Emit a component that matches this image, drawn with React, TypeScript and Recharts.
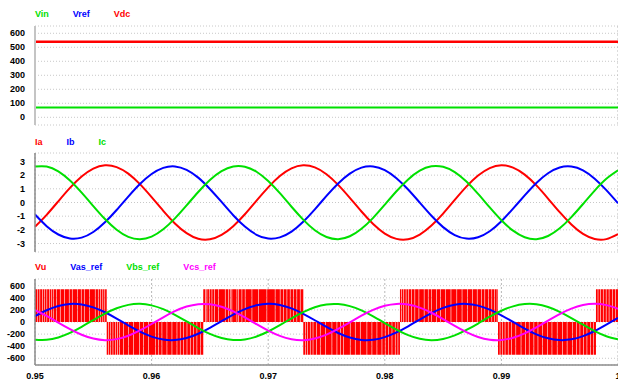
import { Area, CartesianGrid, ComposedChart, Line, XAxis, YAxis } from "recharts";

const FONT = "'Liberation Sans', Arial, sans-serif";
const WIDTH = 618;

// time axis (s)
const timeTicks = [0.95, 0.96, 0.97, 0.98, 0.99, 1];
const sampleTimes = [
  0.95, 0.951, 0.952, 0.953, 0.954, 0.955, 0.956, 0.957, 0.958, 0.959,
  0.96, 0.961, 0.962, 0.963, 0.964, 0.965, 0.966, 0.967, 0.968, 0.969,
  0.97, 0.971, 0.972, 0.973, 0.974, 0.975, 0.976, 0.977, 0.978, 0.979,
  0.98, 0.981, 0.982, 0.983, 0.984, 0.985, 0.986, 0.987, 0.988, 0.989,
  0.99, 0.991, 0.992, 0.993, 0.994, 0.995, 0.996, 0.997, 0.998, 0.999, 1
];

// panel 1: dc quantities
const dcTimes = [0.95, 1];
const vinValues = [70, 70];
const vrefValues = [540, 540];
const vdcValues = [540, 540];

// panel 2: phase currents
const iaValues = [
  -1.77, -0.9, 0.09, 1.07, 1.9, 2.48, 2.72, 2.59, 2.11, 1.34,
  0.39, -0.61, -1.53, -2.24, -2.65, -2.69, -2.37, -1.73, -0.86, 0.14,
  1.11, 1.94, 2.5, 2.72, 2.57, 2.07, 1.29, 0.34, -0.66, -1.57,
  -2.27, -2.66, -2.69, -2.35, -1.69, -0.81, 0.19, 1.16, 1.97, 2.52,
  2.72, 2.55, 2.04, 1.25, 0.29, -0.71, -1.61, -2.3, -2.67, -2.68, -2.32
];
const ibValues = [
  -0.88, -1.73, -2.34, -2.63, -2.57, -2.16, -1.45, -0.55, 0.43, 1.35,
  2.08, 2.53, 2.64, 2.39, 1.82, 0.99, 0.04, -0.93, -1.76, -2.36,
  -2.64, -2.55, -2.13, -1.41, -0.5, 0.48, 1.39, 2.11, 2.55, 2.64,
  2.37, 1.78, 0.95, -0.01, -0.97, -1.8, -2.38, -2.64, -2.54, -2.1,
  -1.37, -0.45, 0.52, 1.43, 2.14, 2.56, 2.63, 2.35, 1.74, 0.9, -0.06
];
const icValues = [
  2.63, 2.63, 2.28, 1.61, 0.72, -0.26, -1.21, -1.99, -2.51, -2.68,
  -2.49, -1.96, -1.16, -0.21, 0.77, 1.65, 2.3, 2.64, 2.62, 2.25,
  1.57, 0.68, -0.31, -1.25, -2.03, -2.52, -2.68, -2.47, -1.92, -1.12,
  -0.16, 0.82, 1.69, 2.33, 2.65, 2.61, 2.22, 1.53, 0.63, -0.36,
  -1.3, -2.06, -2.54, -2.68, -2.45, -1.89, -1.07, -0.11, 0.87, 1.73, 2.35
];

// panel 3: references
const vasValues = [
  96, 194, 264, 298, 290, 242, 161, 57, -55, -160,
  -241, -290, -298, -265, -194, -97, 13, 122, 214, 276,
  300, 282, 225, 136, 29, -82, -182, -257, -296, -294,
  -250, -173, -71, 41, 147, 233, 286, 299, 271, 205,
  111, 1, -109, -204, -270, -299, -287, -234, -149, -43, 68
];
const vbsValues = [
  -294, -295, -255, -180, -79, 32, 139, 227, 283, 300,
  275, 212, 119, 10, -100, -197, -266, -298, -289, -240,
  -157, -52, 60, 163, 244, 291, 297, 263, 191, 93,
  -18, -126, -217, -278, -300, -280, -222, -132, -25, 87,
  186, 259, 296, 293, 248, 169, 66, -45, -151, -235, -287
];
const vcsValues = [
  198, 102, -9, -118, -211, -274, -300, -283, -228, -140,
  -33, 78, 179, 255, 295, 294, 253, 176, 75, -37,
  -143, -230, -284, -300, -273, -209, -115, -6, 105, 200,
  268, 299, 288, 237, 153, 48, -64, -167, -247, -292,
  -297, -260, -188, -89, 22, 130, 220, 280, 300, 279, 219
];

// Vu: PWM blocks (start time, level) and the visible off-slits (ms after block start)
const vuBlockStarts = [0.95, 0.95615, 0.96443, 0.97301, 0.9813, 0.98971, 0.99811];
const vuLevels = [540, -540, 540, -540, 540, -540, 540];
const vuGapWidthMs = 0.05;
const vuGapOffsetsMs = [
  [0.17, 0.39, 0.6, 0.81, 0.99, 1.2, 1.37, 1.54, 1.8, 2.14, 2.49, 2.91, 3.17, 3.6, 3.94, 4.2, 4.63, 5.14, 5.4, 5.61, 5.79, 5.96],
  [0.14, 0.28, 0.51, 0.71, 0.91, 1.08, 1.42, 1.85, 2.28, 2.79, 3.14, 3.57, 4.14, 4.42, 4.71, 5.14, 5.57, 6.0, 6.28, 6.56, 6.86, 7.14, 7.42, 7.71, 8.0],
  [0.15, 0.29, 0.49, 0.72, 0.94, 1.29, 1.86, 2.14, 2.29, 2.43, 2.86, 3.0, 3.29, 3.57, 4.15, 4.71, 5.43, 6.14, 6.57, 6.86, 7.15, 7.43, 7.71, 8.0, 8.29],
  [0.15, 0.34, 0.57, 0.81, 1.09, 1.43, 1.86, 2.43, 2.86, 3.15, 3.43, 4.0, 4.43, 4.86, 5.43, 5.86, 6.29, 6.72, 7.0, 7.28, 7.58, 7.86, 8.09],
  [0.12, 0.3, 0.5, 0.7, 0.95, 1.25, 1.6, 2.05, 2.4, 2.7, 3.1, 3.45, 3.9, 4.35, 4.85, 5.3, 5.75, 6.2, 6.6, 6.95, 7.25, 7.55, 7.85, 8.1, 8.3],
  [0.15, 0.35, 0.58, 0.85, 1.15, 1.5, 1.95, 2.35, 2.65, 3.05, 3.4, 3.8, 4.2, 4.6, 5.05, 5.5, 5.9, 6.35, 6.7, 7.0, 7.3, 7.6, 7.9, 8.15],
  [0.15, 0.35, 0.6, 0.85, 1.1, 1.4, 1.65]
];

const RED = "#ff0000";
const BLUE = "#0000ff";
const GREEN = "#00e000";
const MAGENTA = "#ff00ff";

const toPoints = (times: number[], values: number[]) =>
  times.map((t, i) => ({ t, v: values[i] }));

const vuPoints = (() => {
  const pts: { t: number; v: number }[] = [];
  vuBlockStarts.forEach((start, i) => {
    const level = vuLevels[i];
    pts.push({ t: start, v: level });
    vuGapOffsetsMs[i].forEach((g) => {
      pts.push({ t: start + g / 1000, v: 0 });
      pts.push({ t: start + (g + vuGapWidthMs) / 1000, v: level });
    });
  });
  pts.push({ t: 1, v: vuLevels[vuLevels.length - 1] });
  return pts;
})();

type LegendItem = { name: string; color: string };

interface PanelProps {
  top: number;
  height: number;
  marginTop: number;
  marginBottom: number;
  domain: [number, number];
  ticks: number[];
  frameColor: string;
  frameWidth: number;
  showTime?: boolean;
  legend: LegendItem[];
  legendTop: number;
  children: React.ReactNode;
}

const Panel = ({
  top, height, marginTop, marginBottom, domain, ticks,
  frameColor, frameWidth, showTime, legend, legendTop, children
}: PanelProps) => {
  const frame = { stroke: frameColor, strokeWidth: frameWidth };
  return (
    <div style={{ position: "absolute", left: 0, top, width: WIDTH, height }}>
      <ComposedChart width={WIDTH} height={height} margin={{ top: marginTop, right: 0, bottom: marginBottom, left: 0 }}>
        <CartesianGrid vertical={false} stroke="#c8c8c8" strokeDasharray="1 2" />
        <CartesianGrid horizontal={false} stroke="#b8b8b8" strokeDasharray="2 2" />
        <XAxis
          dataKey="t"
          type="number"
          domain={[0.95, 1]}
          ticks={timeTicks}
          allowDataOverflow
          interval={0}
          height={showTime ? 16 : 0}
          tickLine={false}
          axisLine={frame}
          tick={showTime ? { fontSize: 9, fontWeight: 700, fill: "#000", fontFamily: FONT } : false}
        />
        <XAxis
          xAxisId="top"
          orientation="top"
          dataKey="t"
          type="number"
          domain={[0.95, 1]}
          ticks={timeTicks}
          allowDataOverflow
          height={0}
          tick={false}
          tickLine={false}
          axisLine={frame}
        />
        <YAxis
          type="number"
          domain={domain}
          ticks={ticks}
          allowDataOverflow
          interval={0}
          width={35}
          tickLine={false}
          tickMargin={4}
          axisLine={frame}
          tick={{ fontSize: 9, fontWeight: 700, fill: "#000", fontFamily: FONT }}
        />
        {children}
      </ComposedChart>
      <div
        style={{
          position: "absolute",
          left: 35,
          top: legendTop,
          display: "flex",
          gap: 24,
          fontFamily: FONT,
          fontSize: 9,
          fontWeight: 700,
          lineHeight: "10px",
          whiteSpace: "nowrap"
        }}
      >
        {legend.map((l) => (
          <span key={l.name} style={{ color: l.color }}>{l.name}</span>
        ))}
      </div>
    </div>
  );
};

const wave = (
  data: { t: number; v: number }[],
  name: string,
  color: string,
  type: "linear" | "natural" = "natural",
  width = 2
) => (
  <Line
    key={name}
    data={data}
    dataKey="v"
    name={name}
    type={type}
    stroke={color}
    strokeWidth={width}
    dot={false}
    activeDot={false}
    isAnimationActive={false}
  />
);

export default function App() {
  return (
    <div style={{ position: "fixed", left: 0, top: 0, width: WIDTH, height: 381, background: "#fff", overflow: "hidden" }}>
      <Panel
        top={0}
        height={130}
        marginTop={26}
        marginBottom={5}
        domain={[-55, 652]}
        ticks={[0, 100, 200, 300, 400, 500, 600]}
        frameColor="#c4c4c4"
        frameWidth={2}
        legend={[{ name: "Vin", color: GREEN }, { name: "Vref", color: BLUE }, { name: "Vdc", color: RED }]}
        legendTop={9}
      >
        {wave(toPoints(dcTimes, vinValues), "Vin", GREEN, "linear")}
        {wave(toPoints(dcTimes, vrefValues), "Vref", BLUE, "linear", 1)}
        {wave(toPoints(dcTimes, vdcValues), "Vdc", RED, "linear", 2.5)}
      </Panel>
      <Panel
        top={130}
        height={125}
        marginTop={23}
        marginBottom={3}
        domain={[-3.62, 3.62]}
        ticks={[-3, -2, -1, 0, 1, 2, 3]}
        frameColor="#8c8c8c"
        frameWidth={1.5}
        legend={[{ name: "Ia", color: RED }, { name: "Ib", color: BLUE }, { name: "Ic", color: GREEN }]}
        legendTop={7}
      >
        {wave(toPoints(sampleTimes, iaValues), "Ia", RED)}
        {wave(toPoints(sampleTimes, ibValues), "Ib", BLUE)}
        {wave(toPoints(sampleTimes, icValues), "Ic", GREEN)}
      </Panel>
      <Panel
        top={254}
        height={127}
        marginTop={25}
        marginBottom={0}
        domain={[-711, 711]}
        ticks={[-600, -400, -200, 0, 200, 400, 600]}
        frameColor="#8c8c8c"
        frameWidth={1.5}
        showTime
        legend={[
          { name: "Vu", color: RED },
          { name: "Vas_ref", color: BLUE },
          { name: "Vbs_ref", color: GREEN },
          { name: "Vcs_ref", color: MAGENTA }
        ]}
        legendTop={8}
      >
        <Area
          data={vuPoints}
          dataKey="v"
          name="Vu"
          type="stepAfter"
          baseValue={0}
          stroke="none"
          fill={RED}
          fillOpacity={1}
          dot={false}
          activeDot={false}
          isAnimationActive={false}
        />
        {wave(toPoints(sampleTimes, vasValues), "Vas_ref", BLUE)}
        {wave(toPoints(sampleTimes, vbsValues), "Vbs_ref", GREEN)}
        {wave(toPoints(sampleTimes, vcsValues), "Vcs_ref", MAGENTA)}
      </Panel>
    </div>
  );
}
